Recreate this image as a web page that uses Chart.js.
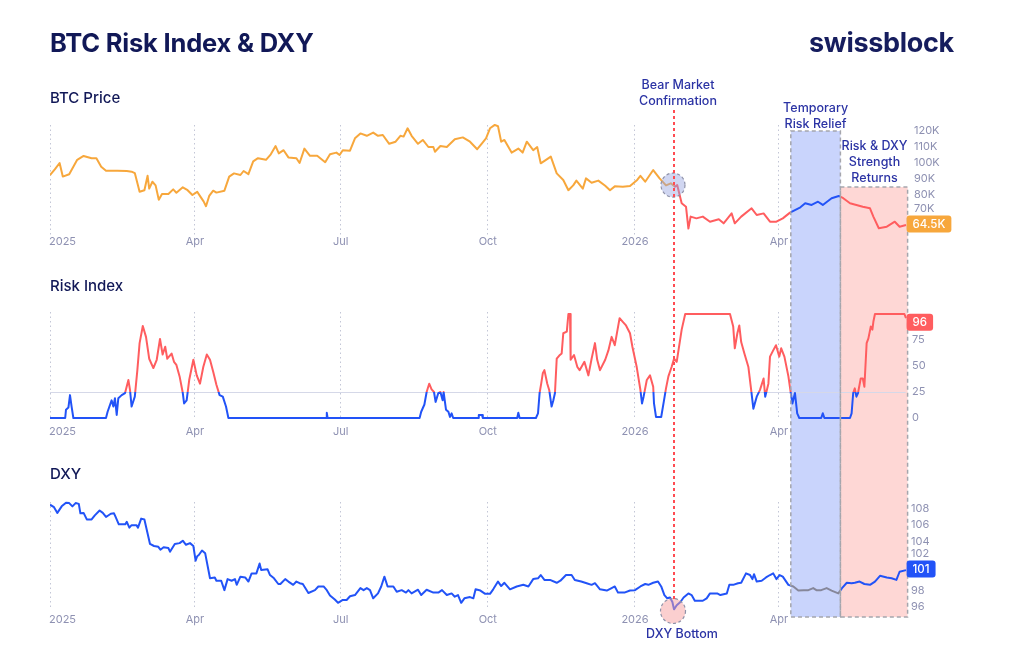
<!DOCTYPE html>
<html>
<head>
<meta charset="utf-8">
<script src="https://cdn.jsdelivr.net/npm/chart.js@4.4.1/dist/chart.umd.min.js"></script>
<style>
  html, body { margin: 0; padding: 0; background: #fff; }
  #wrap { position: relative; width: 1024px; height: 650px; font-family: Inter, 'Noto Sans', sans-serif; color: #111857; }
  #chart { position: absolute; left: 0; top: 0; }
  .title { position: absolute; left: 50px; top: 27px; font-size: 25.5px; font-weight: 700; letter-spacing: -0.2px; }
  .logo { position: absolute; right: 70px; top: 26px; font-size: 27px; font-weight: 700; letter-spacing: -0.3px; color: #161d5e; }
  .panel { position: absolute; left: 50px; font-size: 15px; font-weight: 500; }
</style>
</head>
<body>
<div id="wrap">
  <canvas id="chart" width="1024" height="650"></canvas>
  <div class="title">BTC Risk Index &amp; DXY</div>
  <div class="logo">swissblock</div>
  <div class="panel" style="top:88px">BTC Price</div>
  <div class="panel" style="top:276px">Risk Index</div>
  <div class="panel" style="top:464px">DXY</div>
</div>
<script>
// x values are days since 1 Jan 2025
const tickDays = [0, 90, 181, 273, 365, 455];
const tickNames = ['2025', 'Apr', 'Jul', 'Oct', '2026', 'Apr'];

const btcTicks = [70, 80, 90, 100, 110, 120];   // in K
const riskTicks = [0, 25, 50, 75];
const dxyTicks = [96, 98, 102, 104, 106, 108];

const btcDays = [0,3,6,8,12,17,21,26,29,32,35,42,48,51,53,56,59,61,62,64,66,68,70,74,77,79,83,86,89,92,94,96,97.5,99.5,102,104,109,112,115,119,121,124,127,130,135,138,141,143,146,149,154,156,159,162.5,167,172,175,179,181,183,187.5,190.6,194,198,202,205,208,212,216,219,221,223.5,226,230,233,236.5,239.6,240.6,244,248,253,258,262.5,267,270,272.5,275,278,280,282,284,288.5,292.7,295.4,298,302,304.5,306.7,310,313,316.7,320.8,324,327,329,333,335,338.5,342.7,347,350,353,358,362.5,367,369,372,377,381,385,388,390.6,392,394.8,397.5,399,400.4,404,408,412.5,418,421,426,428,432,438.5,441.7,446,450,454,458,462.5,465.6,469,472,476,480,483,488.5,493,495.8,500,504,508,512.5,514.6,518,523,528,531,535];
const btcPrice = [92.5,96,100,91.5,93,102,104.4,103,103,97.7,95.2,95.2,95,94.6,93.7,82,83,92,84,88.3,86,77,80.6,80.6,83.5,81.4,84.8,83,80,82,79,76,73,79.4,82.7,81.5,82.7,91.5,93.5,92.5,95,93,101,103,102,105.4,110.6,106,108,103.5,103,100,109,104.5,104.5,100.5,105.5,106.5,105,108,107.7,115.4,118.5,117,119,117,117.5,112,113.3,117,116.5,121.7,117,112,114.4,110,110,107,110.6,110,114.8,116,113.3,108.6,112.3,115.4,121.7,123.8,123,113.3,114.4,106.5,109,106.5,113.3,108,110,99.8,102,104,93.5,89.4,83,86,89,84,90.4,87.7,89,85.8,83,85.4,85.2,85.6,89.4,92,88.3,95.6,90.4,86,87.3,85.2,86.2,74.8,72.7,59,66.5,65.4,66.5,63.3,64.8,62.3,68.5,62.3,66.5,71.7,67.5,68.5,63.3,63.3,65.4,69,70.6,72.3,74.8,73.8,75.8,73.8,78,79.4,78,74.8,73.8,72.7,71.7,66.5,59.2,60.2,63.3,60.2,61.2];

const riskDays = [0,9.5,10,11.5,12.5,13.5,14.6,35,36,38.5,39.6,40.6,41.7,42.7,44.8,46.9,49,50,51,53,54.6,56,58,60,62,64.6,66.7,68.75,70.4,72,73.3,76,77.5,79,81,83,83.8,85.4,87,89.6,91.7,93.75,95.8,98,100,102,104,106,108,110,111.5,172.5,173,173.5,231,232,234,235.4,237,238.5,240,241,242.7,244,245.4,246,247.5,249,250,251,252,267.5,268,270,270.5,292,292.7,293.5,303.7,305,306,307,308,309,310.8,312,313.5,314.6,315.6,316.7,318.3,319.8,320.8,323,324,325,325.4,327.5,329.6,331,334,336.5,338.5,340.6,342,343.75,347,349,351,353,356,358,360,362.5,364,366.7,369,370,371,373,375,377,377.5,378.75,382,383.75,385,386.5,388.5,390,391.7,394.8,397,425,427,428,429.6,430.8,432,434,436.5,438,439.6,441.7,443.75,446,447,449,450,452,453.75,455.8,457,459,461.5,463,464,465.6,467,468.3,482,483,484,500,501,502,503,504,505,506.7,508,509,510.4,511.5,513,514,514.6,515.6,534,535];
const riskValue = [0,0,8,10,22,11,0,0,6,17,11,19,3,19,22,24,36.5,27,11,20.5,46,72,88.5,78,57,48,56,76,61,68.5,57,62,54,51,40,24,14,17,36.5,56,41,33,49,61,56,44.5,32,22,20.5,11,0,0,5,0,0,6,13,25,33,27.5,25,15.5,24,25,17,25,8,6,1,4.5,0,0,3,3,0,0,5,0,0,4.5,24,33,43,46,33,27,11,17,24,57,60,62,81.5,83,100,100,56,60.6,49,46,54,41,57,72,56,46,56,65,78,70,96,92.5,89,81.5,68.5,49,27,14,20.5,36.5,41,30,14,1,1,17,28.5,40,49,57,54,85,100,100,88,67,81.5,89,73,62,49,30,9,20.5,27,38,20.5,33,59,65,70,59,67,59,40,24,14,24,4.5,0,0,4.5,0,0,4.5,24,28.5,20.5,24,38,38,30,72,76.6,88,85,92.5,100,100,96];

const dxyDays = [0,2.5,4.6,7.3,10,12,14,16,18,19,21,23,26,28,31,33,35,38,40,41,43,47,48,49.6,51,54,55,57,59,62.5,65,67.7,69,71,74,75,78,81,83,85,87.5,89.6,91,92,93,95,97,100,103,104,107,109,111,113.5,115.6,116.7,119,122,124,126,129,131,132,136,137.5,140,142.7,144,147,149,152,154,156,158,161.5,165.6,167.7,171,173,175,178,180,183,185.4,187.5,190.6,194,196,198,200,202,205,207,209,211,214.6,216.7,219.8,222.5,224,226,230,232,235.4,239.6,242.7,245,248,251,253,255,257,259,262.5,264.6,266,269,272,275,277,280,282,284,287.5,291.7,295.8,299,302,305,306.7,309,312.5,316.7,319,322.5,326,328,332,335.4,338.5,340.6,343.75,348,351,353,355,359,362.5,365.6,369,372,374,377,380,382,384,385.8,387.5,389,390,391.7,394,396,399,401,403,408,410.4,412.5,417,419,423,424.6,427,430,432,435,437.5,439,440,441.7,444.8,447.5,450,452,454,456,458,461.5,464.6,467.7,471,474,477,479,482,485.4,488.5,492.7,495,498,501,503,506,509,512.5,515.6,518.75,523,526,529,531,535];
const dxyValue = [108.5,108.2,107.5,108.3,108.75,108.7,108.3,108.7,108.6,107.45,107.5,106.7,106.7,107.2,107.8,107.5,107,107.4,107.45,107,106.1,106.1,106.4,105.7,106,106,105.7,106.8,106.7,103.7,103.45,103.35,103,103.3,103.2,102.75,103.7,103.8,104.1,103.6,103.8,103.45,101.65,102.2,102.35,102.9,102.55,99.5,99.6,99.2,99.2,98.05,99.4,99.2,99.4,98.7,99.7,99.6,99.1,100.1,100.1,101.3,100.5,100.6,99.9,99.5,98.8,98.8,99.4,99.1,98.7,99.1,98.9,98.8,97.7,98.05,98.5,98.5,98.05,97.4,96.9,96.5,96.85,96.85,97.3,97.45,98.3,98.05,98.3,98.05,97.05,97.65,98.5,99.7,98.5,98.5,97.85,98.05,97.75,98.05,97.65,98.1,97.45,98.1,97.75,97.75,98.05,97.45,97.65,97.25,97.45,96.5,97.05,97.2,97.05,98.15,98,97.6,97.6,98.15,99.1,98.55,98.95,98.15,98.5,98.7,98.5,99.4,99.5,99.9,99.3,99.3,98.95,99.2,99.9,99.9,99.3,99.1,98.9,98.7,98.9,98.15,98,98.3,98.5,97.75,97.75,98,98.05,98.5,98.8,98.7,98.95,99.1,98.5,97.45,97.05,97.15,96.6,95.7,96.2,96.6,97.15,97.65,97.45,96.75,96.75,97.05,97.65,97.65,97.45,97.65,98.7,98.7,98.9,98.95,100.1,99.9,99.4,100,99.1,99.2,99.6,99.9,100.1,99.4,99.9,99.7,98.7,98.5,98,98.05,98.05,98.3,98.05,98.05,98.3,98,97.65,98.3,98.95,98.9,98.95,99.1,98.8,98.7,99.1,99.8,99.6,99.5,99.3,100.3,100.5];

// latest-value badges as printed on the chart
const badgeTexts = ['64.5K', '96', '101'];

// event markers (days)
const bearDay = 390;
const reliefStart = 463, reliefEnd = 494, returnEnd = 536;

const ORANGE = '#f7a73c', RED = '#ff5d5f', BLUE = '#2253f7', GREY = '#86879a';
const NAVY_TEXT = '#2b33a4', TICK = '#8e91b2';

const AREA_TOP = 110, AREA_BOTTOM = 630;
function axisRange(v1, y1, v2, y2) {
  const k = (v1 - v2) / (y2 - y1);
  return { min: v2 - (AREA_BOTTOM - y2) * k, max: v1 + (y1 - AREA_TOP) * k };
}
const btcRange = axisRange(120, 131, 70, 211);
const riskRange = axisRange(100, 314, 0, 418);
const dxyRange = axisRange(108, 508.8, 96, 606.9);

function pairs(xs, ys) { return xs.map((d, i) => ({ x: d, y: ys[i] })); }

function hGradient(chart, stops) {
  const ca = chart.chartArea, x = chart.scales.x;
  const g = chart.ctx.createLinearGradient(ca.left, 0, ca.right, 0);
  stops.forEach(([day, c1, c2]) => {
    const f = Math.min(1, Math.max(0, (x.getPixelForValue(day) - ca.left) / (ca.right - ca.left)));
    g.addColorStop(f, c1);
    if (c2) g.addColorStop(f, c2);
  });
  return g;
}

function btcColor(ctx) {
  const chart = ctx.chart;
  if (!chart.chartArea) return ORANGE;
  return hGradient(chart, [[0, ORANGE], [bearDay, ORANGE, RED], [reliefStart, RED, BLUE], [reliefEnd, BLUE, RED], [returnEnd, RED]]);
}
function dxyColor(ctx) {
  const chart = ctx.chart;
  if (!chart.chartArea) return BLUE;
  return hGradient(chart, [[0, BLUE], [reliefStart, BLUE, GREY], [reliefEnd, GREY, BLUE], [returnEnd, BLUE]]);
}
function riskColor(ctx) {
  const chart = ctx.chart, ca = chart.chartArea;
  if (!ca) return RED;
  const y25 = chart.scales.yRisk.getPixelForValue(25);
  const g = chart.ctx.createLinearGradient(0, ca.top, 0, ca.bottom);
  const f = (y25 - ca.top) / (ca.bottom - ca.top);
  g.addColorStop(0, RED); g.addColorStop(f, RED);
  g.addColorStop(f, BLUE); g.addColorStop(1, BLUE);
  return g;
}

function roundRect(ctx, x, y, w, h, r) {
  ctx.beginPath();
  ctx.moveTo(x + r, y);
  ctx.arcTo(x + w, y, x + w, y + h, r);
  ctx.arcTo(x + w, y + h, x, y + h, r);
  ctx.arcTo(x, y + h, x, y, r);
  ctx.arcTo(x, y, x + w, y, r);
  ctx.closePath();
}

const overlay = {
  id: 'overlay',
  beforeDatasetsDraw(chart) {
    const { ctx, scales } = chart;
    const x = scales.x;
    const bandBottom = scales.yDxy.getPixelForValue(94.76);

    // shaded periods
    const blueTop = scales.yBtc.getPixelForValue(120);
    const pinkTop = scales.yBtc.getPixelForValue(85);
    const x1 = x.getPixelForValue(reliefStart), x2 = x.getPixelForValue(reliefEnd), x3 = x.getPixelForValue(returnEnd);
    ctx.save();
    ctx.fillStyle = 'rgba(90,125,245,0.33)';
    ctx.fillRect(x1, blueTop, x2 - x1, bandBottom - blueTop);
    ctx.fillStyle = 'rgba(250,110,105,0.28)';
    ctx.fillRect(x2, pinkTop, x3 - x2, bandBottom - pinkTop);
    ctx.restore();

    // dotted vertical grid per panel
    const panels = [[125, 235], [312, 420], [502, 610]];
    ctx.save();
    ctx.strokeStyle = '#c3c6d6';
    ctx.lineWidth = 1;
    ctx.setLineDash([1.5, 3]);
    tickDays.forEach(d => {
      const px = Math.round(x.getPixelForValue(d)) + 0.5;
      panels.forEach(([t, b]) => {
        ctx.beginPath(); ctx.moveTo(px, t); ctx.lineTo(px, b); ctx.stroke();
      });
    });
    ctx.restore();

    // risk 25 reference line
    const y25 = Math.round(scales.yRisk.getPixelForValue(25)) + 0.5;
    ctx.save();
    ctx.strokeStyle = '#d5d8e8';
    ctx.lineWidth = 1;
    ctx.beginPath(); ctx.moveTo(x.getPixelForValue(0), y25); ctx.lineTo(x.getPixelForValue(returnEnd) - 2, y25); ctx.stroke();
    ctx.restore();
  },
  afterDatasetsDraw(chart) {
    const { ctx, scales } = chart;
    const x = scales.x;
    const bandBottom = scales.yDxy.getPixelForValue(94.76);
    const blueTop = scales.yBtc.getPixelForValue(120);
    const pinkTop = scales.yBtc.getPixelForValue(85);
    const x1 = x.getPixelForValue(reliefStart), x2 = x.getPixelForValue(reliefEnd), x3 = x.getPixelForValue(returnEnd);

    // dashed borders of shaded periods
    ctx.save();
    ctx.strokeStyle = '#a5a6ad';
    ctx.lineWidth = 1.5;
    ctx.setLineDash([4, 3]);
    ctx.strokeRect(x1, blueTop, x2 - x1, bandBottom - blueTop);
    ctx.strokeRect(x2, pinkTop, x3 - x2, bandBottom - pinkTop);
    ctx.restore();

    // circles
    const bx = x.getPixelForValue(bearDay);
    const circles = [
      [scales.yBtc.getPixelForValue(86.2), 12, 'rgba(150,165,225,0.45)'],
      [scales.yDxy.getPixelForValue(95.5), 12.5, 'rgba(248,160,160,0.5)']
    ];
    circles.forEach(([cy, r, fill]) => {
      ctx.save();
      ctx.beginPath(); ctx.arc(bx - 1, cy, r, 0, Math.PI * 2);
      ctx.fillStyle = fill; ctx.fill();
      ctx.setLineDash([3, 2.5]); ctx.strokeStyle = '#8f92a8'; ctx.lineWidth = 1.2; ctx.stroke();
      ctx.restore();
    });

    // bear market confirmation line
    ctx.save();
    ctx.strokeStyle = '#ff4c52';
    ctx.lineWidth = 2;
    ctx.setLineDash([3, 3]);
    ctx.beginPath(); ctx.moveTo(bx, 110); ctx.lineTo(bx, 602); ctx.stroke();
    ctx.restore();

    // annotation texts
    ctx.save();
    ctx.fillStyle = NAVY_TEXT;
    ctx.font = '500 12.5px Inter, sans-serif';
    ctx.textAlign = 'center';
    ctx.textBaseline = 'middle';
    const notes = [
      [bx + 4, [85, 101], ['Bear Market', 'Confirmation']],
      [(x1 + x2) / 2, [108, 124], ['Temporary', 'Risk Relief']],
      [(x2 + x3) / 2 + 0.5, [146, 162, 178], ['Risk & DXY', 'Strength', 'Returns']],
      [bx + 8, [634], ['DXY Bottom']]
    ];
    notes.forEach(([cx, ys, lines]) => lines.forEach((t, i) => ctx.fillText(t, cx, ys[i])));
    ctx.restore();

    // x labels per panel
    ctx.save();
    ctx.fillStyle = TICK;
    ctx.font = '11px Inter, sans-serif';
    ctx.textBaseline = 'middle';
    [242, 432, 620].forEach(ly => {
      tickDays.forEach((d, i) => {
        ctx.textAlign = i === 0 ? 'left' : 'center';
        ctx.fillText(tickNames[i], x.getPixelForValue(d) + (i === 0 ? -1 : 1), ly);
      });
    });
    ctx.restore();

    // right axis ticks and badges
    const lastOf = (arr) => arr[arr.length - 1];
    const sets = [
      [scales.yBtc, btcTicks, v => v + 'K', scales.yBtc.getPixelForValue(lastOf(btcPrice)) - 1, ORANGE, badgeTexts[0], 914],
      [scales.yRisk, riskTicks, v => String(v), scales.yRisk.getPixelForValue(lastOf(riskValue)) + 4, RED, badgeTexts[1], 912],
      [scales.yDxy, dxyTicks, v => String(v), scales.yDxy.getPixelForValue(lastOf(dxyValue)) - 1, BLUE, badgeTexts[2], 911]
    ];
    const bxLeft = x3 - 1;
    sets.forEach(([scale, ticks, fmt, by, color, text, tx]) => {
      ctx.save();
      ctx.font = '11px Inter, sans-serif';
      ctx.fillStyle = TICK;
      ctx.textAlign = 'left';
      ctx.textBaseline = 'middle';
      ticks.forEach(v => {
        let ty = scale.getPixelForValue(v);
        if (Math.abs(ty - by) < 15) ty = ty < by ? by - 15 : by + 15;
        ctx.fillText(fmt(v), tx, ty);
      });
      ctx.font = '500 11.5px Inter, sans-serif';
      const w = ctx.measureText(text).width + 12;
      roundRect(ctx, bxLeft, by - 8.5, w, 17, 3);
      ctx.fillStyle = color;
      ctx.fill();
      ctx.fillStyle = '#fff';
      ctx.fillText(text, bxLeft + 6, by + 0.5);
      ctx.restore();
    });
  }
};

new Chart(document.getElementById('chart'), {
  type: 'line',
  data: {
    datasets: [
      { label: 'BTC', data: pairs(btcDays, btcPrice), yAxisID: 'yBtc', borderColor: btcColor },
      { label: 'Risk', data: pairs(riskDays, riskValue), yAxisID: 'yRisk', borderColor: riskColor },
      { label: 'DXY', data: pairs(dxyDays, dxyValue), yAxisID: 'yDxy', borderColor: dxyColor }
    ]
  },
  options: {
    responsive: false,
    animation: false,
    layout: { padding: { left: 50, right: 1024 - 50 - 536 * 1.6, top: AREA_TOP, bottom: 650 - AREA_BOTTOM } },
    plugins: { legend: { display: false }, tooltip: { enabled: false } },
    elements: {
      point: { radius: 0 },
      line: { borderWidth: 2, tension: 0, borderJoinStyle: 'round', fill: false }
    },
    scales: {
      x: { type: 'linear', min: 0, max: 536, display: false },
      yBtc: { type: 'linear', min: btcRange.min, max: btcRange.max, display: false },
      yRisk: { type: 'linear', min: riskRange.min, max: riskRange.max, display: false },
      yDxy: { type: 'linear', min: dxyRange.min, max: dxyRange.max, display: false }
    }
  },
  plugins: [overlay]
});
</script>
</body>
</html>
